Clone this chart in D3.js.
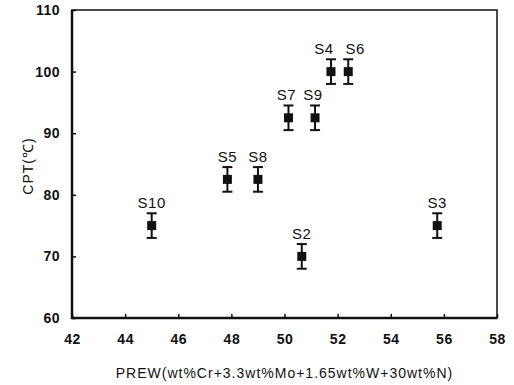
<!DOCTYPE html>
<html>
<head>
<meta charset="utf-8">
<script src="https://cdn.jsdelivr.net/npm/d3@7"></script>
<style>
  body { margin: 0; background: #fff; }
  text { font-family: "Liberation Sans", Arial, sans-serif; fill: #111; }
</style>
</head>
<body>
<div class="graph-container"></div>
<script>
// data
const samples = ["S10", "S5", "S8", "S7", "S2", "S9", "S4", "S6", "S3"];
const prew = [45.0, 47.85, 49.0, 50.15, 50.65, 51.15, 51.75, 52.4, 55.75];
const cpt = [75, 82.5, 82.5, 92.5, 70, 92.5, 100, 100, 75];
const err = [2, 2, 2, 2, 2, 2, 2, 2, 2];
const xTicks = [42, 44, 46, 48, 50, 52, 54, 56, 58];
const yTicks = [60, 70, 80, 90, 100, 110];

// labels that are nudged sideways so they don't collide
const labelShift = { S4: -7, S6: 7, S7: -2, S9: -2 };

let dims = { width: 514, height: 385 };
let margin = { left: 72, top: 10, right: 17, bottom: 67 };

const svg = d3.select(".graph-container").append("svg")
  .attr("width", dims.width).attr("height", dims.height);

const w = dims.width - margin.left - margin.right;
const h = dims.height - margin.top - margin.bottom;

const graph = svg.append("g").attr("transform", `translate(${margin.left},${margin.top})`);

const x = d3.scaleLinear().domain([42, 58]).range([0, w]);
const y = d3.scaleLinear().domain([60, 110]).range([h, 0]);

// frame: left/bottom heavier like the scan
graph.append("rect").attr("width", w).attr("height", h)
  .attr("fill", "none").attr("stroke", "#111").attr("stroke-width", 1.5);
graph.append("path").attr("d", `M0,0V${h}H${w}`)
  .attr("fill", "none").attr("stroke", "#111").attr("stroke-width", 2.5);

const xAxis = graph.append("g").attr("transform", `translate(0,${h})`)
  .call(d3.axisBottom(x).tickValues(xTicks).tickSize(-4).tickPadding(16));
const yAxis = graph.append("g")
  .call(d3.axisLeft(y).tickValues(yTicks).tickSize(-4).tickPadding(12));

[xAxis, yAxis].forEach(a => {
  a.select(".domain").remove();
  a.selectAll("line").attr("stroke", "#111").attr("stroke-width", 1.5);
  a.selectAll("text").attr("font-size", 14).attr("font-weight", "bold")
    .attr("letter-spacing", "0.5px")
    .attr("font-family", "Liberation Sans, Arial, sans-serif").attr("fill", "#111");
});
xAxis.selectAll(".tick text").attr("dy", "0.71em");

// axis titles
svg.append("text").attr("x", margin.left + w / 2).attr("y", 378)
  .attr("text-anchor", "middle").attr("font-size", 14).attr("letter-spacing", "1px")
  .text("PREW(wt%Cr+3.3wt%Mo+1.65wt%W+30wt%N)");

svg.append("text").attr("transform", `translate(33,${margin.top + h / 2 + 2}) rotate(-90)`)
  .attr("text-anchor", "middle").attr("font-size", 14).attr("letter-spacing", "1px")
  .text("CPT(℃)");

const data = samples.map((s, i) => ({ name: s, x: prew[i], y: cpt[i], e: err[i] }));

const pts = graph.selectAll("g.pt").data(data).enter().append("g").attr("class", "pt");

pts.append("line")
  .attr("x1", d => x(d.x)).attr("x2", d => x(d.x))
  .attr("y1", d => y(d.y + d.e)).attr("y2", d => y(d.y - d.e))
  .attr("stroke", "#111").attr("stroke-width", 2);
pts.selectAll("line.cap").data(d => [
    { x: d.x, y: d.y + d.e }, { x: d.x, y: d.y - d.e }
  ]).enter().append("line").attr("class", "cap")
  .attr("x1", d => x(d.x) - 5).attr("x2", d => x(d.x) + 5)
  .attr("y1", d => y(d.y)).attr("y2", d => y(d.y))
  .attr("stroke", "#111").attr("stroke-width", 2);

pts.append("rect")
  .attr("x", d => x(d.x) - 4.5).attr("y", d => y(d.y) - 4.5)
  .attr("width", 9).attr("height", 9).attr("fill", "#111");

pts.append("text")
  .attr("x", d => x(d.x) + (labelShift[d.name] || 0)).attr("y", d => y(d.y + d.e) - 5)
  .attr("text-anchor", "middle").attr("font-size", 15).attr("letter-spacing", "0.5px")
  .text(d => d.name);
</script>
</body>
</html>
